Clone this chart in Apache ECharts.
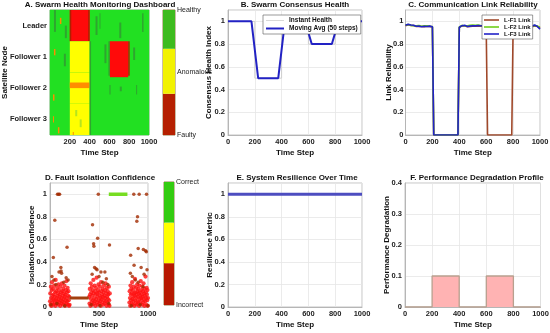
<!DOCTYPE html>
<html><head><meta charset="utf-8">
<script src="https://cdn.jsdelivr.net/npm/echarts@6/dist/echarts.min.js"></script>
<style>html,body{margin:0;padding:0;background:#fff}#c{width:550px;height:333px}</style>
</head><body><div id="c"></div>
<script>
// ---------- DATA ----------
const nodes = ['Leader', 'Follower 1', 'Follower 2', 'Follower 3'];
// state colours: 0 healthy, 1 healthy(dark), 2 anomalous, 3 anomalous-orange, 4 faulty, 5 faulty-dark, 6 transitional
const heatColors = ['#22e022', '#2fa52f', '#ffff00', '#ff8c00', '#ff0a0a', '#b02000', '#b5e51d'];
// [tStart, tEnd, rowLow, rowHigh, state]  rows: 0-1 Follower 3, 1-2 Follower 2, 2-3 Follower 1, 3-4 Leader
const heatRects = [
  [0, 1000, 0, 4, 0],
  [40, 60, 3.3, 4, 1], [100, 115, 3.55, 3.75, 3], [150, 170, 3.1, 3.5, 1],
  [200, 400, 3, 4, 4], [200, 215, 3, 4, 5], [385, 400, 3, 4, 5],
  [460, 480, 3.2, 3.8, 1], [500, 510, 3.4, 3.9, 1], [700, 720, 3.1, 3.6, 1], [930, 945, 3.3, 3.9, 1],
  [40, 55, 2.55, 2.75, 3], [140, 160, 2.2, 2.6, 1], [200, 400, 2, 3, 2], [550, 570, 2.3, 2.9, 1],
  [590, 605, 1.9, 3, 1], [605, 790, 1.85, 3, 4], [790, 805, 1.9, 3, 5], [840, 860, 2.4, 2.8, 1],
  [30, 45, 1.1, 1.3, 3], [200, 400, 1, 2, 2], [200, 400, 1.5, 1.68, 3], [600, 612, 1.3, 1.6, 1],
  [705, 725, 1.4, 1.55, 1], [870, 880, 1.3, 1.6, 1],
  [30, 40, 0.4, 0.6, 3], [80, 95, 0.05, 0.25, 3], [200, 400, 0, 1, 2], [255, 275, 0.6, 0.8, 6],
  [300, 320, 0.25, 0.5, 6], [230, 240, 0, 0.1, 3], [400, 415, 0, 3, 1]
];
const cbHealthBands = [0.33, 0.36, 0.31];    // faulty, anomalous, healthy
const cbConfBands = [0.34, 0.33, 0.33];      // incorrect, mid, correct

// B. consensus health
const instTime = [0, 200, 200, 400, 400, 600, 600, 800, 800, 1000];
const instVals = [1, 1, 0.5, 0.5, 1, 1, 0.8, 0.8, 1, 1];
const maTime = [0, 175, 225, 375, 425, 575, 625, 775, 825, 1000];
const maVals = [1, 1, 0.5, 0.5, 1, 1, 0.8, 0.8, 1, 1];

// C. link reliability, sampled every 10 steps (0..1000)
const linkF1 = [0.962,0.968,0.970,0.966,0.963,0.960,0.964,0.958,0.955,0.960,0.957,0.962,0.955,0.958,0.953,0.959,0.957,0.952,0.956,0.953,
  0.950, 0,0,0,0,0,0,0,0,0,0,0,0,0,0,0,0,0,0,0,
  0.945, 0.955,0.960,0.955,0.962,0.958,0.953,0.960,0.956,0.963,0.958,0.952,0.958,0.955,0.960,0.954,0.958,0.956,0.961,0.957,
  0.955, 0,0,0,0,0,0,0,0,0,0,0,0,0,0,0,0,0,0,0,
  0.950, 0.955,0.958,0.953,0.957,0.960,0.955,0.958,0.953,0.956,0.960,0.955,0.957,0.961,0.956,0.954,0.958,0.962,0.957,0.950,0.940];
const linkF2 = [0.968,0.970,0.973,0.972,0.965,0.967,0.962,0.963,0.960,0.958,0.963,0.961,0.957,0.956,0.962,0.958,0.960,0.953,0.957,0.958,
  0.955, 0,0,0,0,0,0,0,0,0,0,0,0,0,0,0,0,0,0,0,
  0.950, 0.960,0.965,0.962,0.960,0.968,0.962,0.970,0.965,0.972,0.968,0.970,0.966,0.963,0.967,0.961,0.964,0.960,0.962,0.958,
  0.960,0.962,0.958,0.963,0.960,0.957,0.962,0.960,0.964,0.959,0.961,0.963,0.960,0.958,0.962,0.960,0.965,0.959,0.961,0.960,
  0.960,0.961,0.960,0.963,0.962,0.961,0.960,0.959,0.962,0.961,0.960,0.963,0.962,0.961,0.960,0.962,0.964,0.961,0.958,0.955,0.950];
const linkF3 = [0.965,0.972,0.975,0.970,0.968,0.963,0.966,0.960,0.957,0.962,0.958,0.964,0.953,0.960,0.956,0.961,0.955,0.950,0.958,0.955,
  0.952, 0,0,0,0,0,0,0,0,0,0,0,0,0,0,0,0,0,0,0,
  0.948, 0.958,0.962,0.957,0.965,0.960,0.955,0.963,0.958,0.966,0.961,0.954,0.960,0.957,0.963,0.956,0.961,0.958,0.964,0.959,
  0.962,0.957,0.965,0.960,0.955,0.963,0.958,0.961,0.966,0.957,0.962,0.959,0.964,0.956,0.961,0.958,0.963,0.957,0.960,0.962,
  0.958,0.963,0.957,0.961,0.965,0.959,0.962,0.956,0.960,0.964,0.958,0.961,0.966,0.960,0.957,0.963,0.968,0.962,0.955,0.945,0.932];

// D. fault isolation confidence: dense low-confidence samples in three windows
const confWindows = [[0, 200], [400, 610], [810, 1000]];
const confW1 = [0.05,0.12,0.02,0.18,0.08,0.01,0.15,0.22,0.04,0.10,0.07,0.16,0.02,0.11,0.06,0.19,0.03,0.09,0.13,0.01,0.24,0.06,0.14,0.08,0.03,0.17,0.10,0.05,0.12,0.02,0.20,0.07,0.15,0.04,0.09,0.11,0.01,0.18,0.06,0.13,0.03,0.08,0.21,0.05,0.14,0.10,0.02,0.16,0.07,0.12,0.04,0.19,0.09,0.01,0.11,0.06,0.15,0.03,0.23,0.08,0.13,0.05,0.17,0.02,0.10,0.14,0.06,0.01,0.09,0.02];
const confW2 = [0.09,0.03,0.16,0.11,0.01,0.21,0.07,0.13,0.04,0.18,0.10,0.02,0.15,0.06,0.24,0.12,0.03,0.08,0.19,0.05,0.14,0.01,0.11,0.17,0.07,0.26,0.04,0.12,0.09,0.02,0.15,0.20,0.06,0.13,0.03,0.10,0.18,0.05,0.08,0.01,0.22,0.14,0.07,0.11,0.04,0.16,0.09,0.02,0.13,0.19,0.06,0.10,0.03,0.15,0.08,0.21,0.05,0.12,0.01,0.17,0.09,0.04,0.14,0.07,0.11,0.02,0.18,0.06,0.01,0.12];
const confW3 = [0.04,0.14,0.08,0.01,0.19,0.11,0.06,0.16,0.03,0.12,0.22,0.07,0.02,0.15,0.09,0.05,0.18,0.12,0.01,0.10,0.25,0.06,0.13,0.03,0.17,0.08,0.11,0.02,0.20,0.14,0.05,0.09,0.16,0.04,0.12,0.01,0.19,0.07,0.13,0.10,0.03,0.23,0.08,0.15,0.06,0.11,0.02,0.18,0.09,0.14,0.04,0.21,0.07,0.12,0.01,0.16,0.10,0.05,0.27,0.13,0.08,0.02,0.17,0.11,0.06,0.15,0.01,0.08];
const confSparse = [[76,1],[88,1],[98,1],[493,1],[855,1],[910,1],[985,1],
  [49,0.77],[34,0.44],[174,0.53],[434,0.73],[445,0.56],[448,0.54],[486,0.61],[607,0.55],[823,0.46],[858,0.37],
  [893,0.8],[886,0.76],[900,0.52],[953,0.51],[983,0.49],[975,0.5],
  [111,0.35],[113,0.32],[118,0.3],[92,0.31],[20,0.27],[40,0.24],[140,0.22],[165,0.26],[185,0.24],[60,0.2],
  [455,0.35],[470,0.34],[480,0.33],[520,0.31],[560,0.31],[575,0.25],[430,0.29],[500,0.27],[540,0.22],[590,0.2],
  [840,0.27],[870,0.24],[930,0.35],[960,0.29],[990,0.33],[900,0.22],[820,0.3],[950,0.18],
  [10,0.02],[70,0.03],[150,0.01],[420,0.02],[510,0.01],[600,0.03],[830,0.01],[920,0.02],[1000,0.01]];
const confCorrect = [[600, 1], [790, 1]];
const confHold = [[200, 0.08], [395, 0.08]];

// E. resilience
const resTime = [0, 1000];
const resVals = [1, 1];

// F. degradation
const degTime = [0, 200, 200, 400, 400, 600, 600, 800, 800, 1000];
const degVals = [0, 0, 0.1, 0.1, 0, 0, 0.1, 0.1, 0, 0];

// ---------- BUILD ----------
const FF = 'Liberation Sans, Arial, Helvetica, sans-serif';
const zip = (a, b) => a.map((v, i) => [v, b[i]]);
const linkTime = linkF3.map((_, i) => i * 10);
const denseConf = [];
[confW1, confW2, confW3].forEach((arr, k) => {
  const [s, e] = confWindows[k];
  arr.forEach((y, i) => denseConf.push([s + i * (e - s) / (arr.length - 1), y]));
});

const tick = {fontSize: 7.5, fontWeight: 'bold', color: '#222', fontFamily: FF};
const nameStyle = {fontSize: 8, fontWeight: 'bold', color: '#111', fontFamily: FF};
const split = {show: true, lineStyle: {color: '#e6e6e6', width: 0.8}};
const aLine = {show: true, lineStyle: {color: '#aaa', width: 0.8}};

function gridAt(l, t, w, h, border) {
  return {left: l, top: t, width: w, height: h, show: true, borderColor: border || '#b5b5b5', borderWidth: 0.8, outerBoundsMode: 'none', containLabel: false};
}
function timeAxis(g, interval, extra) {
  return Object.assign({gridIndex: g, type: 'value', min: 0, max: 1000, interval: interval,
    axisLine: aLine, axisTick: {show: false}, axisLabel: Object.assign({margin: 3, formatter: v => String(v)}, tick),
    splitLine: split, name: 'Time Step', nameLocation: 'middle', nameGap: 14, nameMoveOverlap: false,
    nameTextStyle: nameStyle}, extra || {});
}
function valAxis(g, max, interval, name, gap, margin) {
  return {gridIndex: g, type: 'value', min: 0, max: max, interval: interval,
    axisLine: aLine, axisTick: {show: false},
    axisLabel: Object.assign({margin: margin || 3, formatter: v => (v > max - 1e-9 && max === 1.1) ? '' : String(+v.toFixed(2))}, tick),
    splitLine: split, name: name, nameLocation: 'middle', nameGap: gap, nameMoveOverlap: false,
    nameTextStyle: nameStyle};
}
function cbAxis(g, labels, interval) {
  return {gridIndex: g, type: 'value', min: 0, max: 1, interval: interval, position: 'right',
    axisLine: {show: false}, axisTick: {show: false}, splitLine: {show: false},
    axisLabel: {margin: 2, fontSize: 7, color: '#222', fontFamily: FF, formatter: v => labels[String(v)] || ''}};
}
function titleAt(text, x, y) {
  return {text: text, left: x, top: y, textAlign: 'center', padding: 0,
    textStyle: {fontSize: 8, fontWeight: 'bold', color: '#111', fontFamily: FF}};
}
function cbSeries(xi, yi, stack, bands, colors) {
  return bands.map((b, i) => ({type: 'bar', xAxisIndex: xi, yAxisIndex: yi, stack: stack, barWidth: '100%',
    data: [b], silent: true, itemStyle: {color: colors[i]}}));
}
const thick = 'path://M0 0H18V2H0Z';
const thin = 'path://M0 0H18V0.8H0Z';
const mid = 'path://M0 0H15V1.6H0Z';

const option = {
  animation: false,
  backgroundColor: '#fff',
  title: [
    titleAt('A. Swarm Health Monitoring Dashboard', 100, 1),
    titleAt('B. Swarm Consensus Health', 295, 1),
    titleAt('C. Communication Link Reliability', 473, 1),
    titleAt('D. Fault Isolation Confidence', 100, 174),
    titleAt('E. System Resilience Over Time', 297, 174),
    titleAt('F. Performance Degradation Profile', 477, 174)
  ],
  legend: [
    {data: [{name: 'Instant Health', icon: thin}, {name: 'Moving Avg (50 steps)', icon: thick}],
      orient: 'vertical', left: 263, top: 15,
      itemWidth: 18, itemHeight: 7, itemGap: 1, padding: [2, 3, 2, 3], backgroundColor: '#fff',
      borderColor: '#555', borderWidth: 0.6, selectedMode: false,
      textStyle: {fontSize: 6.5, fontWeight: 'bold', color: '#111', fontFamily: FF}},
    {data: [{name: 'L-F1 Link', icon: mid}, {name: 'L-F2 Link', icon: mid}, {name: 'L-F3 Link', icon: mid}],
      orient: 'vertical', left: 482, top: 15,
      itemWidth: 15, itemHeight: 7, itemGap: 1, padding: [2, 2, 2, 2], backgroundColor: '#fff',
      borderColor: '#555', borderWidth: 0.6, selectedMode: false,
      textStyle: {fontSize: 6, fontWeight: 'bold', color: '#111', fontFamily: FF}}
  ],
  grid: [
    gridAt(50, 10, 99, 125, '#2f9d2f'),
    gridAt(163, 10, 12, 125, '#7a5a20'),
    gridAt(228, 10, 134, 125),
    gridAt(405.5, 10, 134.5, 125),
    gridAt(50, 183, 98, 124),
    gridAt(164, 182, 10, 123, '#7a5a20'),
    gridAt(228, 183, 134, 124),
    gridAt(405, 183, 135.5, 124)
  ],
  xAxis: [
    timeAxis(0, 200, {axisLine: {show: false}, splitLine: {show: false},
      axisLabel: Object.assign({margin: 3, formatter: v => v === 0 ? '' : String(v)}, tick)}),
    {gridIndex: 1, type: 'category', data: ['c'], show: false},
    timeAxis(2, 200),
    timeAxis(3, 200),
    timeAxis(4, 500),
    {gridIndex: 5, type: 'category', data: ['c'], show: false},
    timeAxis(6, 200),
    timeAxis(7, 200)
  ],
  yAxis: [
    {gridIndex: 0, type: 'category', data: nodes, inverse: true, axisLine: {show: false}, axisTick: {show: false},
      axisLabel: Object.assign({margin: 3}, tick, {fontSize: 7.5}), name: 'Satellite Node', nameLocation: 'middle',
      nameGap: 41, nameMoveOverlap: false, nameTextStyle: nameStyle},
    {gridIndex: 0, type: 'value', min: 0, max: 4, show: false, position: 'right'},
    cbAxis(1, {'0': 'Faulty', '0.5': 'Anomalous', '1': 'Healthy'}, 0.5),
    valAxis(2, 1.1, 0.2, 'Consensus Health Index', 15),
    valAxis(3, 1.1, 0.2, 'Link Reliability', 12.5, 2),
    valAxis(4, 1.1, 0.2, 'Isolation Confidence', 14.5),
    cbAxis(5, {'0': 'Incorrect', '1': 'Correct'}, 1),
    valAxis(6, 1.1, 0.2, 'Resilience Metric', 14.5),
    valAxis(7, 0.4, 0.1, 'Performance Degradation', 14)
  ],
  series: [
    {type: 'custom', xAxisIndex: 0, yAxisIndex: 1, data: heatRects, clip: true, silent: true,
      encode: {x: [0, 1], y: [2, 3]},
      renderItem: (params, api) => {
        const a = api.coord([api.value(0), api.value(3)]);
        const b = api.coord([api.value(1), api.value(2)]);
        return {type: 'rect', shape: {x: a[0], y: a[1], width: b[0] - a[0], height: b[1] - a[1]},
          style: {fill: heatColors[api.value(4)]}};
      }},
    ...cbSeries(1, 2, 'cbA', cbHealthBands, ['#b52000', '#f2f200', '#3dbb1e']),
    {name: 'Instant Health', type: 'line', xAxisIndex: 2, yAxisIndex: 3, data: zip(instTime, instVals),
      symbol: 'none', lineStyle: {color: '#cfcfcf', width: 1}, itemStyle: {color: '#cfcfcf'}},
    {name: 'Moving Avg (50 steps)', type: 'line', xAxisIndex: 2, yAxisIndex: 3, data: zip(maTime, maVals),
      symbol: 'none', lineStyle: {color: '#2222c4', width: 2}, itemStyle: {color: '#2222c4'}},
    {name: 'L-F1 Link', type: 'line', xAxisIndex: 3, yAxisIndex: 4, data: zip(linkTime, linkF1),
      symbol: 'none', lineStyle: {color: '#a0482a', width: 1.6}, itemStyle: {color: '#a0482a'}},
    {name: 'L-F2 Link', type: 'line', xAxisIndex: 3, yAxisIndex: 4, data: zip(linkTime, linkF2),
      symbol: 'none', lineStyle: {color: '#6fcf1a', width: 1.6}, itemStyle: {color: '#6fcf1a'}},
    {name: 'L-F3 Link', type: 'line', xAxisIndex: 3, yAxisIndex: 4, data: zip(linkTime, linkF3),
      symbol: 'none', lineStyle: {color: '#2222c8', width: 1.6}, itemStyle: {color: '#2222c8'}},
    {type: 'scatter', xAxisIndex: 4, yAxisIndex: 5, data: denseConf, symbolSize: 4.2, silent: true,
      itemStyle: {color: '#ff1010'}},
    {type: 'scatter', xAxisIndex: 4, yAxisIndex: 5, data: confSparse, symbolSize: 3.5, silent: true,
      itemStyle: {color: '#a12a00'}},
    {type: 'line', xAxisIndex: 4, yAxisIndex: 5, data: confHold, symbol: 'none', silent: true,
      lineStyle: {color: '#a3400f', width: 3}},
    {type: 'line', xAxisIndex: 4, yAxisIndex: 5, data: confCorrect, symbol: 'none', silent: true,
      lineStyle: {color: '#77dd22', width: 3.5}},
    ...cbSeries(5, 6, 'cbD', cbConfBands, ['#b81800', '#ffff00', '#33cc11']),
    {type: 'line', xAxisIndex: 6, yAxisIndex: 7, data: zip(resTime, resVals), symbol: 'none', silent: true,
      lineStyle: {color: '#4d4dc0', width: 3}},
    {type: 'line', xAxisIndex: 7, yAxisIndex: 8, data: zip(degTime, degVals), symbol: 'none', silent: true,
      lineStyle: {color: '#b8a08f', width: 1.3}, areaStyle: {color: '#ffb3b3', opacity: 1}}
  ]
};
const chart = echarts.init(document.getElementById('c'), null, {renderer: 'canvas'});
chart.setOption(option);
</script></body></html>
